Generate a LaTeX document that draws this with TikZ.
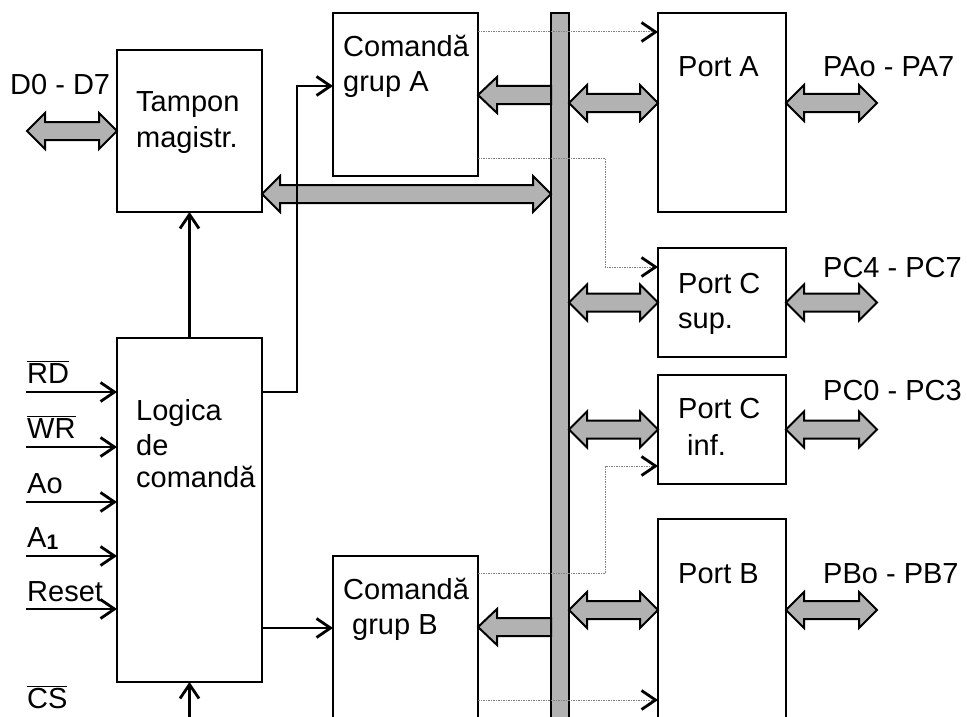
\documentclass[tikz,border=0pt]{standalone}
\usepackage{fontspec}
\setmainfont{Liberation Sans}
\usetikzlibrary{arrows.meta,calc}
\definecolor{busgray}{RGB}{178,178,178}
\newcommand{\ovl}[1]{\ensuremath{\overline{\hbox{#1}}}}
% double block arrow between two points on the same horizontal line
\newcommand{\dbar}[2]{\draw[bigarrow] let \p1=(#1), \p2=(#2) in
  (\x1,\y1) -- (\x1+18pt,\y1+18pt) -- (\x1+18pt,\y1+9pt) -- (\x2-18pt,\y1+9pt) --
  (\x2-18pt,\y1+18pt) -- (\x2,\y1) -- (\x2-18pt,\y1-18pt) -- (\x2-18pt,\y1-9pt) --
  (\x1+18pt,\y1-9pt) -- (\x1+18pt,\y1-18pt) -- cycle;}
% single block arrow, head at the left point
\newcommand{\lbar}[2]{\draw[bigarrow] let \p1=(#1), \p2=(#2) in
  (\x1,\y1) -- (\x1+19pt,\y1+18pt) -- (\x1+19pt,\y1+9pt) -- (\x2,\y1+9pt) --
  (\x2,\y1-9pt) -- (\x1+19pt,\y1-9pt) -- (\x1+19pt,\y1-18pt) -- cycle;}
\begin{document}
\begin{tikzpicture}[x=1pt,y=-1pt,
  box/.style={draw,line width=2.2pt,fill=white,inner sep=0pt,outer sep=0pt,anchor=north west},
  busbar/.style={draw,line width=2.2pt,fill=busgray,inner sep=0pt,outer sep=0pt,anchor=north west},
  lbl/.style={font=\fontsize{29}{34}\selectfont,inner sep=0pt,anchor=base west},
  sig/.style={line width=2.2pt,-{Straight Barb[length=14pt,width=19pt,line width=2.8pt]}},
  ctl/.style={draw=gray,line width=1pt,dash pattern=on 1.5pt off 1pt,
    -{Straight Barb[length=14pt,width=19pt,line width=2.8pt,black]}},
  bigarrow/.style={draw,line width=2pt,fill=busgray,line join=miter}]
\useasboundingbox (0,0) rectangle (967,717);
\fill[white] (0,0) rectangle (967,717);

% blocks
\node[box,minimum width=145pt,minimum height=162pt] (tampon) at (117,50) {};
\node[box,minimum width=145pt,minimum height=163pt] (grupA) at (333,13) {};
\node[box,minimum width=145pt,minimum height=344pt] (logica) at (117,338) {};
\node[box,minimum width=145pt,minimum height=180pt] (grupB) at (333,556) {};
\node[box,minimum width=128pt,minimum height=199pt] (portA) at (658,13) {};
\node[box,minimum width=128pt,minimum height=109pt] (portCs) at (658,248) {};
\node[box,minimum width=128pt,minimum height=109pt] (portCi) at (658,375) {};
\node[box,minimum width=128pt,minimum height=220pt] (portB) at (658,519) {};
\node[busbar,minimum width=18pt,minimum height=720pt] (bus) at (551,13) {};

% free ends
\coordinate (dL) at (27,131);
\coordinate (extA) at (877,103);
\coordinate (extCs) at (877,302);
\coordinate (extCi) at (877,429);
\coordinate (extB) at (877,610);

% block arrows
\dbar{dL}{tampon.west}
\dbar{tampon.east |- 0,194}{bus.west |- 0,194}
\lbar{grupA.east |- 0,95}{bus.west |- 0,95}
\lbar{grupB.east |- 0,627}{bus.west |- 0,627}
\dbar{bus.east |- 0,103}{portA.west |- 0,103}
\dbar{portA.east |- extA}{extA}
\dbar{bus.east |- portCs.west}{portCs.west}
\dbar{portCs.east}{extCs}
\dbar{bus.east |- portCi.west}{portCi.west}
\dbar{portCi.east}{extCi}
\dbar{bus.east |- 0,610}{portB.west |- 0,610}
\dbar{portB.east |- extB}{extB}

% control inputs
\coordinate (rdL) at (26,392);
\coordinate (wrL) at (26,447);
\coordinate (aoL) at (26,502);
\coordinate (a1L) at (26,556);
\coordinate (rsL) at (26,609);
\coordinate (csB) at (189.5,725);
\draw[sig] (rdL) -- (rdL -| logica.west);
\draw[sig] (wrL) -- (wrL -| logica.west);
\draw[sig] (aoL) -- (aoL -| logica.west);
\draw[sig] (a1L) -- (a1L -| logica.west);
\draw[sig] (rsL) -- (rsL -| logica.west);
\draw[sig] (csB) -- (logica.south);
\draw[sig] (logica.north) -- (tampon.south);
\coordinate (gaIn) at (333,86);
\draw[sig] (rdL -| logica.east) -- (297,392) |- (gaIn -| grupA.west);
\draw[sig] (logica.east |- 0,628) -- (grupB.west |- 0,628);

% dotted control lines
\draw[ctl] (grupA.east |- 0,32) -- (portA.west |- 0,32);
\draw[ctl] (grupA.east |- 0,158) -- (605,158) |- (portCs.west |- 0,267);
\draw[ctl] (grupB.east |- 0,573) -- (605,573) |- (portCi.west |- 0,466);
\draw[ctl] (grupB.east |- 0,700) -- (portB.west |- 0,700);

% texts
\node[lbl] (tD) at (10,95) {D0 - D7};
\node[lbl] (tTa1) at (136,111) {Tampon};
\node[lbl] (tTa2) at (136,147) {magistr.};
\node[lbl] (tGA1) at (343,57) {Comandă};
\node[lbl] (tGA2) at (343,92) {grup A};
\node[lbl] (tPA) at (678,77) {Port A};
\node[lbl] (tPAx) at (823,77) {PAo - PA7};
\node[lbl] (tCs1) at (678,293) {Port C};
\node[lbl] (tCs2) at (678,328) {sup.};
\node[lbl] (tCsx) at (823,277) {PC4 - PC7};
\node[lbl] (tCi1) at (678,418) {Port C};
\node[lbl] (tCi2) at (687,455) {inf.};
\node[lbl] (tCix) at (823,400) {PC0 - PC3};
\node[lbl] (tPB) at (678,583) {Port B};
\node[lbl] (tPBx) at (823,583) {PBo - PB7};
\node[lbl] (tGB1) at (343,599) {Comandă};
\node[lbl] (tGB2) at (352,634) {grup B};
\node[lbl] (tL1) at (136,420) {Logica};
\node[lbl] (tL2) at (136,455) {de};
\node[lbl] (tL3) at (136,487) {comandă};
\node[lbl] (tRD) at (27,383) {\ovl{RD}};
\node[lbl] (tWR) at (27,438) {\ovl{WR}};
\node[lbl] (tAo) at (27,493) {Ao};
\node[lbl] (tA1) at (27,547) {A\raisebox{-2pt}{\fontsize{21}{21}\selectfont\bfseries 1}};
\node[lbl] (tRs) at (27,601) {Reset};
\node[lbl] (tCS) at (27,708) {\ovl{CS}};
\end{tikzpicture}
\end{document}
